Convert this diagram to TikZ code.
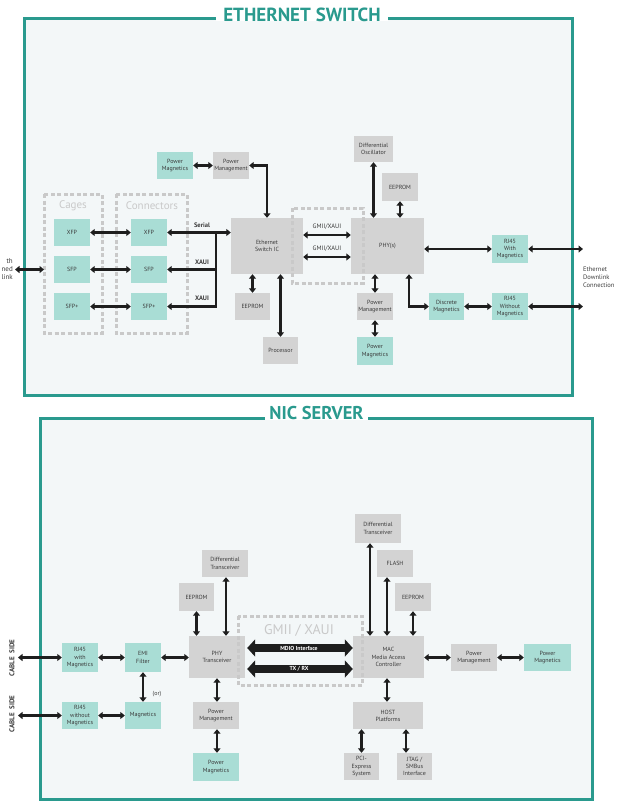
\documentclass[tikz,border=0pt]{standalone}
\usepackage{fontspec}
\setmainfont{PT Sans}
\setsansfont{PT Sans}
\usetikzlibrary{arrows.meta}
\definecolor{frameC}{HTML}{2A9A8E}
\definecolor{bgC}{HTML}{F3F7F8}
\definecolor{tealbox}{HTML}{A9DDD5}
\definecolor{graybox}{HTML}{D3D3D3}
\definecolor{dashC}{HTML}{C9C9C9}
\definecolor{txtC}{HTML}{3A3A3A}
\definecolor{arrC}{HTML}{1E1E1E}
\tikzset{
  box/.style={rectangle, inner sep=0pt, align=center, text=txtC,
    font=\fontsize{6}{7.2}\selectfont},
  tbox/.style={box, fill=tealbox},
  gbox/.style={box, fill=graybox},
  arr/.style={draw=arrC, line width=2.3pt,
    {Triangle[length=4.5pt,width=7pt]}-{Triangle[length=4.5pt,width=7pt]}},
  arrE/.style={draw=arrC, line width=2.3pt, -{Triangle[length=4.5pt,width=7pt]}},
  band/.style={draw=arrC, line width=8pt,
    {Triangle[length=8pt,width=17pt]}-{Triangle[length=8pt,width=17pt]}},
  dbox/.style={draw=dashC, line width=3pt, dash pattern=on 4pt off 2.5pt},
  frame/.style={draw=frameC, line width=3pt, fill=bgC},
  ftitle/.style={fill=white, text=frameC, inner xsep=7pt, inner ysep=0pt,
    font=\fontsize{19}{20}\selectfont\bfseries},
  lbl/.style={text=txtC, inner sep=0pt, font=\fontsize{6.5}{7.5}\selectfont\bfseries},
  dlbl/.style={text=dashC, inner sep=0pt, font=\fontsize{11}{12}\selectfont},
  side/.style={text=txtC, inner sep=0pt, align=right, font=\fontsize{6.5}{8}\selectfont},
}
\begin{document}
\begin{tikzpicture}[x=1pt,y=-1pt]
\useasboundingbox (0,0) rectangle (640,807);
\fill[white] (0,0) rectangle (640,807);

% ================= ETHERNET SWITCH =================
\draw[frame] (24,18) rectangle (572,395);
\node[ftitle] (t1) at (302,14.5) {ETHERNET SWITCH};

\node[tbox, minimum width=36, minimum height=27] (pmagA) at (175,165.5) {Power\\Magnetics};
\node[gbox, minimum width=36, minimum height=27] (pmgmtA) at (231,165.5) {Power\\Management};

\node[tbox, minimum width=36, minimum height=27] (cxfp) at (72,232.5) {XFP};
\node[tbox, minimum width=36, minimum height=27] (csfp) at (72,269.5) {SFP};
\node[tbox, minimum width=36, minimum height=27] (csfpp) at (72,306.5) {SFP+};
\node[tbox, minimum width=36, minimum height=27] (kxfp) at (149,232.5) {XFP};
\node[tbox, minimum width=36, minimum height=27] (ksfp) at (149,269.5) {SFP};
\node[tbox, minimum width=36, minimum height=27] (ksfpp) at (149,306.5) {SFP+};

\node[gbox, minimum width=72, minimum height=56] (sw) at (267,246) {Ethernet\\Switch IC};
\node[gbox, minimum width=35, minimum height=27] (eepA) at (252.5,306.5) {EEPROM};
\node[gbox, minimum width=35, minimum height=27] (proc) at (280.5,350.5) {Processor};

\node[gbox, minimum width=73, minimum height=56] (phy) at (387.5,246) {PHY(s)};
\node[gbox, minimum width=39, minimum height=26] (diffosc) at (373.5,149) {Differential\\Oscillator};
\node[gbox, minimum width=36, minimum height=28] (eepB) at (400,187) {EEPROM};
\node[gbox, minimum width=36, minimum height=27] (pmgmtB) at (375,306.5) {Power\\Management};
\node[tbox, minimum width=36, minimum height=28] (pmagB) at (375,351) {Power\\Magnetics};

\node[tbox, minimum width=36, minimum height=28] (rj45w) at (510,249) {RJ45\\With\\Magnetics};
\node[tbox, minimum width=35, minimum height=27] (discm) at (446.5,306.5) {Discrete\\Magnetics};
\node[tbox, minimum width=36, minimum height=27] (rj45wo) at (510,306.5) {RJ45\\Without\\Magnetics};

% dashed groups
\draw[dbox] (44,194) rectangle (102,333);
\draw[dbox] (116,194) rectangle (187,333);
\draw[dbox] (292,208) rectangle (363,283);
\node[dlbl] (cagesL) at (73,206) {Cages};
\node[dlbl] (connL) at (152,206) {Connectors};

% external
\coordinate (upl) at (15,269.5);
\coordinate (dl1) at (583,249);
\coordinate (dl2) at (583,306.5);
\node[side, anchor=east, font=\fontsize{7}{8}\selectfont] (uplL) at (13,269) {th\\ned\\link};
\node[side, anchor=west, align=left] (dlL) at (583,277) {Ethernet\\Downlink\\Connection};

% arrows
\draw[arr] (pmagA) -- (pmgmtA);
\draw[arr] (sw.north) |- (pmgmtA.east);
\draw[arr] (upl) -- (csfp.west -| 44,0);
\draw[arr] (cxfp) -- (kxfp);
\draw[arr] (csfp) -- (ksfp);
\draw[arr] (csfpp) -- (ksfpp);
\draw[arr] (kxfp.east) -- (kxfp.east -| sw.west);
\coordinate (b1) at (216,232.5);
\coordinate (b3) at (216,306.5);
\draw[arrE] (b1) -- (b3) -- (ksfpp.east);
\draw[arrE] (ksfp.east -| b1) -- (ksfp.east);
\node[lbl] (serL) at (202,225) {Serial};
\node[lbl] (xa1) at (202,262) {XAUI};
\node[lbl] (xa2) at (202,298.5) {XAUI};

\draw[arr] (sw.south -| eepA.north) -- (eepA.north);
\draw[arr] (sw.south -| proc.north) -- (proc.north);
\draw[arr] (sw.east |- 0,235) -- (phy.west |- 0,235);
\draw[arr] (sw.east |- 0,257) -- (phy.west |- 0,257);
\node[lbl, font=\fontsize{6.4}{7}\selectfont] (g1) at (327,227) {GMII/XAUI};
\node[lbl, font=\fontsize{6.4}{7}\selectfont] (g2) at (327,248.5) {GMII/XAUI};

\draw[arr] (diffosc.south) -- (phy.north -| diffosc.south);
\draw[arr] (eepB.south) -- (phy.north -| eepB.south);
\draw[arr] (phy.south -| pmgmtB.north) -- (pmgmtB.north);
\draw[arr] (pmgmtB) -- (pmagB);
\draw[arr] (phy.east |- rj45w.west) -- (rj45w.west);
\draw[arr] (rj45w.east) -- (dl1);
\draw[arr] (phy.south -| 409,0) |- (discm.west);
\draw[arr] (discm) -- (rj45wo);
\draw[arr] (rj45wo.east) -- (dl2);

% ================= NIC SERVER =================
\draw[frame] (40,418) rectangle (592,799);
\node[ftitle, font=\fontsize{18.5}{20}\selectfont\bfseries, inner xsep=4pt] (t2) at (316.5,413.5) {NIC SERVER};

\node[tbox, minimum width=36, minimum height=29] (rj45a) at (80,657.5) {RJ45\\with\\Magnetics};
\node[tbox, minimum width=36, minimum height=29] (emi) at (143,657.5) {EMI\\Filter};
\node[gbox, minimum width=56, minimum height=42] (phyN) at (217,657) {PHY\\Transceiver};
\node[tbox, minimum width=36, minimum height=27] (rj45b) at (80,715.5) {RJ45\\without\\Magnetics};
\node[tbox, minimum width=36, minimum height=27] (mag) at (143,715.5) {Magnetics};
\node[gbox, minimum width=46, minimum height=27] (diffT1) at (225,563.5) {Differential\\Transceiver};
\node[gbox, minimum width=35, minimum height=28] (eepC) at (196.5,597) {EEPROM};
\node[gbox, minimum width=46, minimum height=27] (pmgmtC) at (216,715.5) {Power\\Management};
\node[tbox, minimum width=46, minimum height=28] (pmagC) at (216,767) {Power\\Magnetics};

\node[gbox, minimum width=71, minimum height=42] (mac) at (388.5,657) {MAC\\Media Access\\Controller};
\node[gbox, minimum width=46, minimum height=29] (diffT2) at (378,528.5) {Differential\\Transceiver};
\node[gbox, minimum width=36, minimum height=27] (flash) at (395,563.5) {FLASH};
\node[gbox, minimum width=36, minimum height=28] (eepD) at (413,597) {EEPROM};
\node[gbox, minimum width=46, minimum height=27] (pmgmtD) at (474,657.5) {Power\\Management};
\node[tbox, minimum width=47, minimum height=27] (pmagD) at (547.5,657.5) {Power\\Magnetics};
\node[gbox, minimum width=70, minimum height=27] (host) at (388,715.5) {HOST\\Platforms};
\node[gbox, minimum width=35, minimum height=27] (pci) at (361.5,766.5) {PCI-\\Express\\System};
\node[gbox, minimum width=35, minimum height=27] (jtag) at (414.5,766.5) {JTAG /\\SMBus\\Interface};

\draw[dbox] (238,616) rectangle (362,685);
\node[dlbl, font=\fontsize{14}{15}\selectfont] (gmL) at (299,630.5) {GMII / XAUI};

\coordinate (cs1) at (18,657.5);
\coordinate (cs2) at (18,715.5);
\node[side, rotate=90, font=\fontsize{7}{8}\selectfont\bfseries] (csL1) at (12,658) {CABLE\ \ SIDE};
\node[side, rotate=90, font=\fontsize{7}{8}\selectfont\bfseries] (csL2) at (12,714) {CABLE\ \ SIDE};

\draw[arr] (cs1) -- (rj45a);
\draw[arr] (rj45a) -- (emi);
\draw[arr] (emi) -- (phyN.west |- emi.east);
\draw[arr] (emi) -- (mag);
\node[lbl, font=\fontsize{6}{7}\selectfont] (orL) at (157,694) {(or)};
\draw[arr] (cs2) -- (rj45b);
\draw[arr] (rj45b) -- (mag);
\draw[arr] (eepC.south) -- (phyN.north -| eepC.south);
\draw[arr] (diffT1.south -| 226,0) -- (phyN.north -| 226,0);
\draw[arr] (phyN.south) -- (pmgmtC.north -| phyN.south);
\draw[arr] (pmgmtC.south -| phyN.south) -- (pmagC.north -| phyN.south);

\draw[band, shorten <=2pt] (phyN.east |- 0,648) -- (mac.west |- 0,648)
  node[midway, text=white, font=\fontsize{5.8}{6}\selectfont\bfseries] {MDIO Interface};
\draw[band, shorten <=2pt] (phyN.east |- 0,669) -- (mac.west |- 0,669)
  node[midway, text=white, font=\fontsize{5.8}{6}\selectfont\bfseries] {TX / RX};

\draw[arr] (diffT2.south -| 370,0) -- (mac.north -| 370,0);
\draw[arr] (flash.south -| 387,0) -- (mac.north -| 387,0);
\draw[arr] (eepD.south) -- (mac.north -| eepD.south);
\draw[arr] (mac.east |- pmgmtD.west) -- (pmgmtD.west);
\draw[arr] (pmgmtD) -- (pmagD);
\draw[arr] (mac.south -| 387,0) -- (host.north -| 387,0);
\draw[arr] (host.south -| pci.north) -- (pci.north);
\draw[arr] (host.south -| 406,0) -- (jtag.north -| 406,0);
\end{tikzpicture}
\end{document}
